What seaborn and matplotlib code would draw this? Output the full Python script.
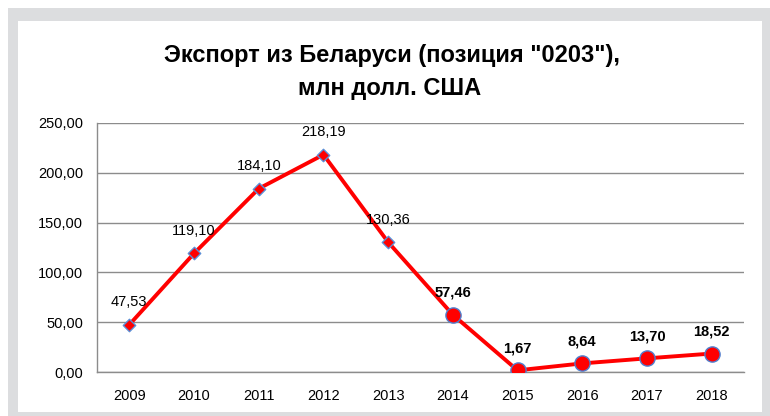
import matplotlib
matplotlib.use("Agg")
import matplotlib.pyplot as plt
from matplotlib.patches import Rectangle
from matplotlib.ticker import FixedLocator, FuncFormatter
import seaborn as sns
import pandas as pd

years = ["2009", "2010", "2011", "2012", "2013", "2014", "2015", "2016", "2017", "2018"]
values = [47.53, 119.10, 184.10, 218.19, 130.36, 57.46, 1.67, 8.64, 13.70, 18.52]
y_ticks = [0, 50, 100, 150, 200, 250]
title_line1 = 'Экспорт из Беларуси (позиция "0203"),'
title_line2 = 'млн долл. США'

df = pd.DataFrame({"year": years, "value": values})
df["pos"] = range(len(years))
df["group"] = ["early"] * 5 + ["late"] * 5

sns.set_style("white")
plt.rcParams["font.family"] = ["Liberation Sans", "DejaVu Sans"]

fig = plt.figure(figsize=(7.7, 4.16), dpi=100)
W, H = 770, 416
# gray frame and white inner panel
fig.patches.append(Rectangle((8 / W, 0), (W - 8) / W, (H - 8) / H, transform=fig.transFigure,
                             facecolor="#dcdddf", edgecolor="none", zorder=-10))
fig.patches.append(Rectangle((18 / W, 4 / H), (762 - 18) / W, (H - 21 - 4) / H, transform=fig.transFigure,
                             facecolor="white", edgecolor="none", zorder=-9))

ax = fig.add_axes([97 / W, 1 - 372 / H, (744 - 97) / W, (372 - 123) / H])
ax.set_facecolor("none")

sns.lineplot(data=df, x="pos", y="value", ax=ax, color="#ff0000", linewidth=2.8, zorder=3)
early = df[df["group"] == "early"]
late = df[df["group"] == "late"]
sns.scatterplot(data=early, x="pos", y="value", ax=ax, marker="D", s=40, color="#ff0000",
                edgecolor="#5b8fd6", linewidth=1, zorder=4)
sns.scatterplot(data=late, x="pos", y="value", ax=ax, marker="o", s=120, color="#ff0000",
                edgecolor="#4f7fcf", linewidth=1, zorder=4)

for _, r in df.iterrows():
    lab = f"{r['value']:.2f}".replace(".", ",")
    if r["group"] == "early":
        ax.annotate(lab, (r["pos"], r["value"]), xytext=(0, 16), textcoords="offset points",
                    ha="center", va="center", fontsize=10.5, color="#000000")
    else:
        ax.annotate(lab, (r["pos"], r["value"]), xytext=(0, 16), textcoords="offset points",
                    ha="center", va="center", fontsize=10.5, fontweight="bold", color="#000000")

ax.set_xlim(-0.5, len(years) - 0.5)
ax.set_ylim(0, 250)
ax.yaxis.set_major_locator(FixedLocator(y_ticks))
ax.yaxis.set_major_formatter(FuncFormatter(lambda v, p: f"{v:.2f}".replace(".", ",")))
ax.set_xticks(df["pos"])
ax.set_xticklabels(years)
ax.set_xticks([i - 0.5 for i in range(len(years) + 1)], minor=True)
ax.tick_params(axis="x", which="major", length=0, pad=12, labelsize=10.5, colors="#000000")
ax.tick_params(axis="x", which="minor", length=5, width=1, color="#8c8c8c", direction="out")
ax.tick_params(axis="y", which="major", length=5, width=1, color="#8c8c8c", direction="out",
               labelsize=10.5, labelcolor="#000000", pad=5)
ax.grid(axis="y", color="#8c8c8c", linewidth=1)
ax.set_axisbelow(True)
for s in ["top", "right"]:
    ax.spines[s].set_visible(False)
for s in ["left", "bottom"]:
    ax.spines[s].set_color("#8c8c8c")
    ax.spines[s].set_linewidth(1)
ax.set_xlabel("")
ax.set_ylabel("")

fig.text(392 / W, 1 - 62 / H, title_line1, ha="center", va="baseline", fontsize=17,
         fontweight="bold", color="#000000")
fig.text(390 / W, 1 - 95 / H, title_line2, ha="center", va="baseline", fontsize=17,
         fontweight="bold", color="#000000")

fig.savefig("out.png", dpi=100)
